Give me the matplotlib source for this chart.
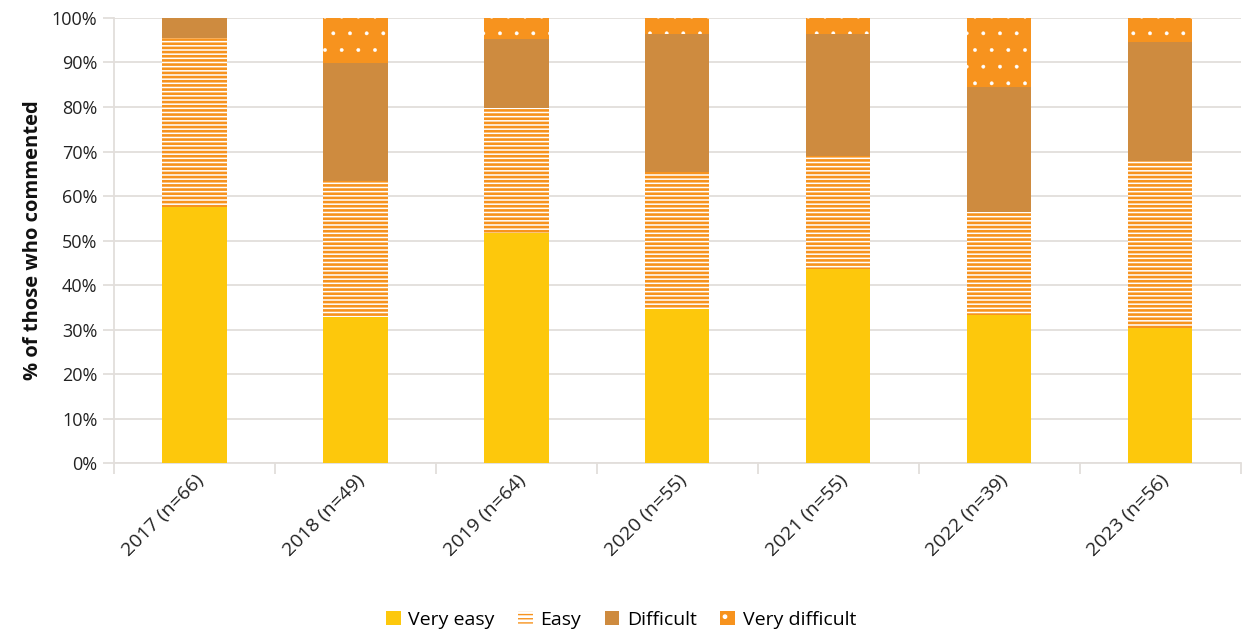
import matplotlib.pyplot as plt
import numpy as np
from matplotlib.patches import Patch

plt.rcParams['font.family'] = ['Open Sans', 'DejaVu Sans']

# Datos (porcentaje de quienes comentaron)
years = ['2017 (n=66)', '2018 (n=49)', '2019 (n=64)', '2020 (n=55)',
         '2021 (n=55)', '2022 (n=39)', '2023 (n=56)']
very_easy = [57.6, 32.7, 51.6, 34.5, 43.6, 33.3, 30.4]
easy = [37.9, 30.6, 28.1, 30.9, 25.5, 23.1, 37.5]
difficult = [4.5, 26.5, 15.6, 30.9, 27.3, 28.2, 26.8]
very_difficult = [0.0, 10.2, 4.7, 3.6, 3.6, 15.4, 5.4]

c_ve = '#FDC80C'
c_orange = '#F7931E'
c_diff = '#CE8B3F'
grid_c = '#E2DEDB'
txt_c = '#222222'

fig = plt.figure(figsize=(12.42, 6.36), dpi=100)
ax = fig.add_axes([0.0918, 0.272, 0.907, 0.6997])

x = np.arange(len(years))
w = 0.4
b1 = np.array(very_easy)
b2 = b1 + np.array(easy)
b3 = b2 + np.array(difficult)

ax.bar(x, very_easy, w, color=c_ve, linewidth=0, zorder=3)
with plt.rc_context({'hatch.linewidth': 1.9}):
    ax.bar(x, easy, w, bottom=b1, facecolor='white', edgecolor=c_orange,
           hatch='----', linewidth=0, zorder=3)
    h_easy = Patch(facecolor='white', edgecolor=c_orange, hatch='----',
                   linewidth=0, label='Easy')
ax.bar(x, difficult, w, bottom=b2, color=c_diff, linewidth=0, zorder=3)
with plt.rc_context({'hatch.linewidth': 0.3}):
    ax.bar(x, very_difficult, w, bottom=b3, facecolor=c_orange, edgecolor='white',
           hatch='.', linewidth=0, zorder=3)
    h_vd = Patch(facecolor=c_orange, edgecolor='white', hatch='.',
                 linewidth=0, label='Very difficult')

ax.set_xlim(-0.5, len(years) - 0.5)
ax.set_ylim(0, 100)
ax.set_yticks(np.arange(0, 101, 10))
ax.set_yticklabels([f'{v}%' for v in range(0, 101, 10)], fontsize=13, color=txt_c)
ax.yaxis.grid(True, color=grid_c, linewidth=1.3, zorder=0)
ax.tick_params(axis='y', length=8, width=1.3, color=grid_c, pad=4)

ax.set_xticks(x)
ax.set_xticklabels(years, rotation=45, ha='right', rotation_mode='anchor',
                   fontsize=14, color=txt_c)
ax.set_xticks(np.arange(-0.5, len(years)), minor=True)
ax.tick_params(axis='x', which='major', length=0, pad=6)
ax.tick_params(axis='x', which='minor', length=8, width=1.3, color=grid_c)

for s in ['top', 'right']:
    ax.spines[s].set_visible(False)
for s in ['left', 'bottom']:
    ax.spines[s].set_color(grid_c)
    ax.spines[s].set_linewidth(1.3)

ax.set_ylabel('% of those who commented', fontsize=14.5, fontweight='bold',
              color='#111111', labelpad=6)

handles = [
    Patch(facecolor=c_ve, linewidth=0, label='Very easy'),
    h_easy,
    Patch(facecolor=c_diff, linewidth=0, label='Difficult'),
    h_vd,
]
fig.legend(handles=handles, loc='center', bbox_to_anchor=(0.5, 0.025), ncol=4,
           frameon=False, fontsize=14, handlelength=0.75, handleheight=0.75,
           handletextpad=0.4, columnspacing=1.2)

plt.savefig('out.png', dpi=100)
